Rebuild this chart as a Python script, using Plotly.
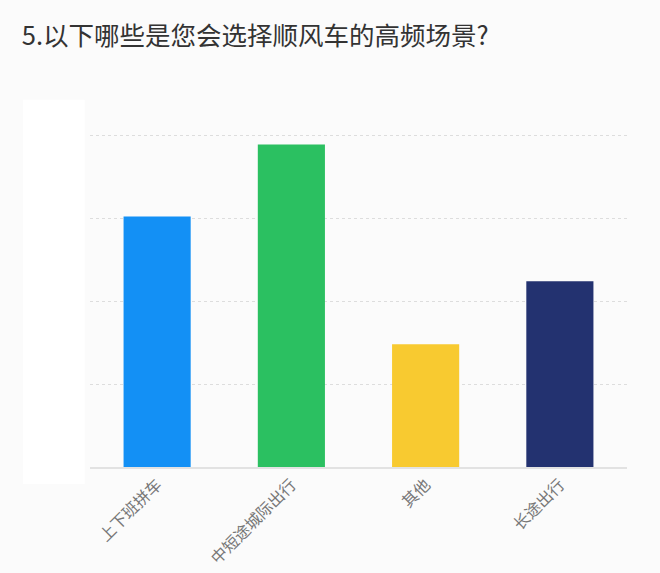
import plotly.graph_objects as go

categories = ["上下班拼车", "中短途城际出行", "其他", "长途出行"]
values = [30.2, 38.9, 14.8, 22.4]
colors = ["#1390f5", "#2bc061", "#f8ca30", "#233270"]
grid_vals = [0, 10, 20, 30, 40]
title_text = "5.以下哪些是您会选择顺风车的高频场景?"

fig = go.Figure(go.Bar(
    x=categories, y=values, marker=dict(color=colors, line=dict(width=0)),
    width=0.5, hoverinfo="x+y",
))

fig.update_layout(
    width=660, height=573,
    paper_bgcolor="#fbfbfb", plot_bgcolor="#fbfbfb",
    margin=dict(l=90, r=33, t=127, b=106, autoexpand=False),
    title=dict(text=title_text, x=0.033, xanchor="left", y=0.937, yanchor="middle",
               font=dict(family="Noto Sans CJK SC", size=25.5, color="#333333")),
    font=dict(family="Noto Sans CJK SC"),
    showlegend=False,
    shapes=[dict(type="rect", xref="paper", yref="paper", x0=-0.125, x1=-0.01, y0=-0.05, y1=1.08,
                 fillcolor="#ffffff", line=dict(width=0), layer="below")],
)
fig.update_xaxes(tickangle=-45, tickfont=dict(size=16, color="#777777"), automargin=False,
                 showline=True, linecolor="#e2e2e2", linewidth=2, ticks="", showgrid=False)
fig.update_yaxes(range=[0, 41], tickvals=grid_vals, showticklabels=False, automargin=False,
                 showgrid=True, gridcolor="#dddddd", griddash="dot", gridwidth=1,
                 zeroline=False, showline=False)

fig.write_html("out.html", config={"displayModeBar": False})
with open("out.html", encoding="utf-8") as f:
    html = f.read()
html = html.replace("<head>", "<head><style>html,body{margin:0;padding:0;overflow:hidden;}</style>", 1)
with open("out.html", "w", encoding="utf-8") as f:
    f.write(html)
